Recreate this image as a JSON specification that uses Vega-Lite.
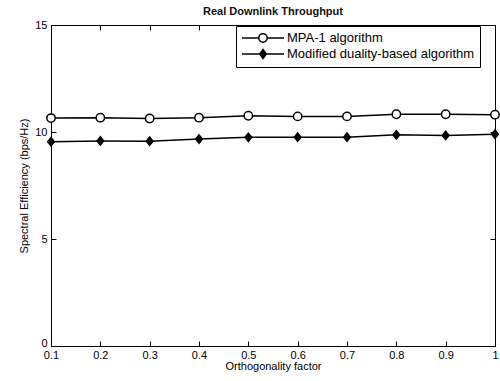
{
  "$schema": "https://vega.github.io/schema/vega-lite/v6.json",
  "width": 444,
  "height": 321,
  "autosize": {"type": "none"},
  "padding": {"left": 51, "top": 25, "right": 5, "bottom": 35},
  "title": {"text": "Real Downlink Throughput", "fontSize": 11, "font": "Liberation Sans", "fontWeight": "bold", "offset": 2, "color": "#111"},
  "config": {
    "view": {"stroke": "black", "strokeWidth": 1},
    "font": "Liberation Sans",
    "axis": {"domain": false, "tickColor": "black", "labelColor": "black", "titleColor": "black", "labelFont": "Liberation Sans", "titleFont": "Liberation Sans", "labelFontSize": 11, "titleFontSize": 11, "titleFontWeight": "normal", "grid": false, "tickSize": 5, "offset": -5}
  },
  "data": {"values": [
    {"x": 0.1, "y": 10.65, "series": "MPA-1 algorithm"},
    {"x": 0.2, "y": 10.67, "series": "MPA-1 algorithm"},
    {"x": 0.3, "y": 10.63, "series": "MPA-1 algorithm"},
    {"x": 0.4, "y": 10.67, "series": "MPA-1 algorithm"},
    {"x": 0.5, "y": 10.76, "series": "MPA-1 algorithm"},
    {"x": 0.6, "y": 10.73, "series": "MPA-1 algorithm"},
    {"x": 0.7, "y": 10.73, "series": "MPA-1 algorithm"},
    {"x": 0.8, "y": 10.83, "series": "MPA-1 algorithm"},
    {"x": 0.9, "y": 10.83, "series": "MPA-1 algorithm"},
    {"x": 1.0, "y": 10.81, "series": "MPA-1 algorithm"},
    {"x": 0.1, "y": 9.55, "series": "Modified duality-based algorithm"},
    {"x": 0.2, "y": 9.58, "series": "Modified duality-based algorithm"},
    {"x": 0.3, "y": 9.57, "series": "Modified duality-based algorithm"},
    {"x": 0.4, "y": 9.67, "series": "Modified duality-based algorithm"},
    {"x": 0.5, "y": 9.75, "series": "Modified duality-based algorithm"},
    {"x": 0.6, "y": 9.76, "series": "Modified duality-based algorithm"},
    {"x": 0.7, "y": 9.76, "series": "Modified duality-based algorithm"},
    {"x": 0.8, "y": 9.87, "series": "Modified duality-based algorithm"},
    {"x": 0.9, "y": 9.84, "series": "Modified duality-based algorithm"},
    {"x": 1.0, "y": 9.9, "series": "Modified duality-based algorithm"}
  ]},
  "resolve": {"scale": {"shape": "independent", "fill": "independent", "stroke": "independent"}, "axis": {"x": "independent", "y": "independent"}},
  "layer": [
    {
      "mark": {"type": "line", "color": "black", "strokeWidth": 1.5, "clip": false},
      "encoding": {
        "x": {"field": "x", "type": "quantitative", "scale": {"domain": [0.1, 1], "nice": false, "zero": false}, "axis": {"values": [0.1, 0.2, 0.3, 0.4, 0.5, 0.6, 0.7, 0.8, 0.9, 1], "format": "~g", "title": "Orthogonality factor", "labelPadding": 3, "titlePadding": 0, "labelFlush": false}},
        "y": {"field": "y", "type": "quantitative", "scale": {"domain": [0, 15], "nice": false}, "axis": {"values": [0, 5, 10, 15], "title": "Spectral Efficiency (bps/Hz)", "labelPadding": 4, "titlePadding": 5, "labelDy": -1, "labelBaseline": {"condition": {"test": "datum.value == 0", "value": "alphabetic"}, "value": "middle"}}},
        "detail": {"field": "series"}
      }
    },
    {
      "mark": {"type": "point", "filled": false, "stroke": "black", "strokeWidth": 1.5, "opacity": 1, "size": 70, "clip": false},
      "encoding": {
        "x": {"field": "x", "type": "quantitative", "axis": null},
        "y": {"field": "y", "type": "quantitative", "axis": null},
        "shape": {"field": "series", "type": "nominal", "legend": null, "scale": {"domain": ["MPA-1 algorithm", "Modified duality-based algorithm"], "range": ["circle", "M-0.8,0L0,-1L0.8,0L0,1Z"]}},
        "fill": {"field": "series", "type": "nominal", "legend": null, "scale": {"domain": ["MPA-1 algorithm", "Modified duality-based algorithm"], "range": ["white", "black"]}}
      }
    },
    {
      "transform": [{"filter": "false"}],
      "mark": {"type": "point", "filled": false, "strokeWidth": 1.5, "opacity": 1, "size": 144},
      "encoding": {
        "x": {"field": "x", "type": "quantitative", "axis": {"orient": "top", "values": [0.1, 0.2, 0.3, 0.4, 0.5, 0.6, 0.7, 0.8, 0.9, 1], "labels": false, "title": null}},
        "y": {"field": "y", "type": "quantitative", "axis": {"orient": "right", "values": [0, 5, 10, 15], "labels": false, "title": null}},
        "shape": {"field": "series", "type": "nominal", "scale": {"domain": ["MPA-1 algorithm", "Modified duality-based algorithm"], "range": ["M-1,0H1.8M3.2,0H6M3.2,0A0.7,0.7,0,1,1,1.8,0A0.7,0.7,0,1,1,3.2,0", "M-1,0H6M2.5,-0.75L3.05,0L2.5,0.75L1.95,0Z"]},
          "legend": {"orient": "none", "legendX": 185, "legendY": 1, "title": null, "strokeColor": "black", "fillColor": "white", "padding": 5, "symbolSize": 144, "symbolStrokeWidth": 1.5, "labelOffset": 32, "labelFontSize": 13, "labelFont": "Liberation Sans", "labelColor": "black", "rowPadding": 0, "labelLimit": 400}},
        "fill": {"field": "series", "type": "nominal", "scale": {"domain": ["MPA-1 algorithm", "Modified duality-based algorithm"], "range": ["white", "black"]}},
        "stroke": {"field": "series", "type": "nominal", "scale": {"domain": ["MPA-1 algorithm", "Modified duality-based algorithm"], "range": ["black", "black"]}}
      }
    }
  ]
}
